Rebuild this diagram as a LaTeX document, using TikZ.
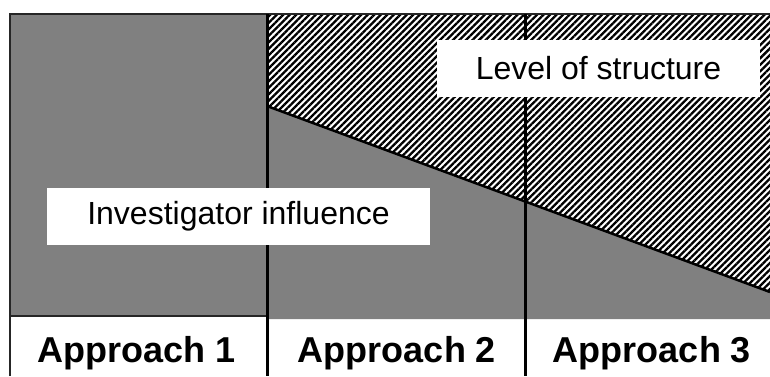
\documentclass[tikz,border=0pt]{standalone}
\usepackage{fontspec}
\setmainfont{Liberation Sans}
\usetikzlibrary{patterns.meta}
\definecolor{areagray}{HTML}{808080}
\tikzset{
  labelbox/.style={fill=white, inner sep=0pt, font=\fontsize{32}{36}\selectfont},
  approach/.style={anchor=base, font=\fontsize{36}{40}\selectfont\bfseries},
  divider/.style={draw=black, line width=3pt},
  slope/.style={draw=black, line width=2.5pt},
  thinframe/.style={draw=black!85, line width=1.5pt},
  hatch/.style={pattern={Lines[angle=45,distance=4.6pt,line width=2.3pt]}}
}
\begin{document}
\begin{tikzpicture}[x=1pt,y=-1pt]
\useasboundingbox (0,0) rectangle (770,376);
\fill[white] (0,0) rectangle (770,376);
% region 1
\fill[areagray] (10,14) rectangle (267,316);
\draw[thinframe] (10,376) -- (10,14) -- (267,14);
\draw[thinframe] (10,316) -- (267,316);
% regions 2 and 3
\coordinate (dl) at (267,106);
\coordinate (dr) at (770,292);
\fill[hatch] (267,14) -- (770,14) -- (dr) -- (dl) -- cycle;
\fill[areagray] (dl) -- (dr) -- (770,319) -- (267,319) -- cycle;
\draw[slope] (dl) -- (dr);
\draw[thinframe] (267,14) -- (770,14);
\draw[divider] (267,14) -- (267,376);
\draw[divider] (525,14) -- (525,376);
% labels
\node[labelbox, minimum width=323pt, minimum height=57pt] (los) at (598.5,68.5) {Level of structure};
\node[labelbox, minimum width=383pt, minimum height=57pt] (inv) at (238.5,216.5) {Investigator influence};
\node[approach] (a1) at (137,362) {Approach 1};
\node[approach] (a2) at (397,362) {Approach 2};
\node[approach] (a3) at (652,362) {Approach 3};
\end{tikzpicture}
\end{document}
